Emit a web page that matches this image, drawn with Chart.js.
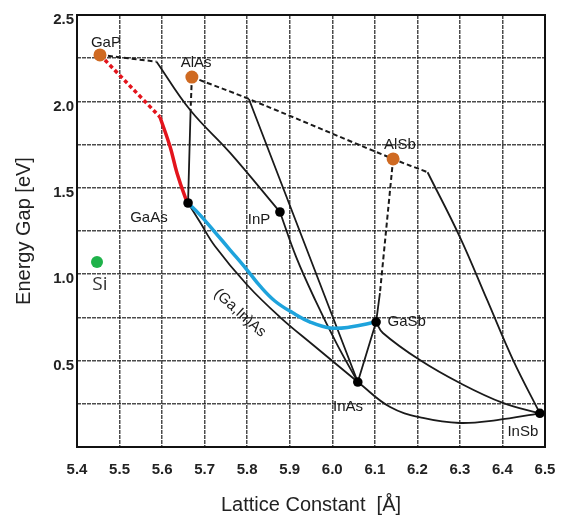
<!DOCTYPE html>
<html>
<head>
<meta charset="utf-8">
<script src="https://cdn.jsdelivr.net/npm/chart.js@4"></script>
<style>
  html, body { margin: 0; padding: 0; background: #fff; }
  #wrap { width: 563px; height: 517px; }
</style>
</head>
<body>
<div id="wrap"><canvas id="chart" width="563" height="517"></canvas></div>
<script>
// Binary compounds: lattice constant [Å] and band gap [eV]
var compounds = ['GaP', 'AlAs', 'AlSb', 'GaAs', 'InP', 'GaSb', 'InAs', 'InSb'];
var latticeConst = [5.454, 5.670, 6.143, 5.661, 5.877, 6.103, 6.060, 6.488];
var energyGap = [2.269, 2.141, 1.667, 1.412, 1.360, 0.723, 0.376, 0.195];
var indirect = [true, true, true, false, false, false, false, false];

var siPoint = [[5.447, 1.07]];

// indirect-gap branches (dashed)
var dashGaP = [[5.454, 2.269], [5.587, 2.23]];
var dashAlAsAlSb = [[5.670, 2.141], [5.804, 2.014], [6.143, 1.667], [6.224, 1.59]];
var dashAlAsDown = [[5.670, 2.141], [5.667, 1.95]];
var dashAlSbDown = [[6.143, 1.667], [6.112, 0.891]];

// direct-gap branches (solid)
var lineGaPInP = [[5.587, 2.23], [5.666, 1.95], [5.76, 1.702], [5.877, 1.36]];
var lineAlAsGaAs = [[5.667, 1.95], [5.661, 1.412]];
var lineAlAsInAs = [[5.804, 2.014], [6.060, 0.376]];
var lineInPInAs = [[5.877, 1.36], [5.915, 1.10], [5.96, 0.85], [6.01, 0.60], [6.060, 0.376]];
var lineGaInAs = [[5.661, 1.412], [5.689, 1.302], [5.724, 1.163], [5.80, 0.9375], [5.877, 0.752], [5.955, 0.59], [6.060, 0.376]];
var lineAlSbGaSb = [[6.112, 0.891], [6.103, 0.723]];
var lineGaSbInAs = [[6.103, 0.723], [6.060, 0.376]];
var lineGaSbInSb = [[6.103, 0.723], [6.119, 0.66], [6.206, 0.503], [6.30, 0.37], [6.401, 0.255], [6.488, 0.195]];
var lineAlSbInSb = [[6.224, 1.59], [6.30, 1.215], [6.364, 0.851], [6.425, 0.503], [6.488, 0.195]];
var lineInAsInSb = [[6.060, 0.376], [6.136, 0.231], [6.213, 0.168], [6.30, 0.139], [6.387, 0.156], [6.488, 0.195]];

// highlighted paths
var redDash = [[5.454, 2.269], [5.595, 1.91]];
var redSolid = [[5.595, 1.91], [5.619, 1.736], [5.635, 1.586], [5.654, 1.447], [5.661, 1.412]];
var blueCurve = [[5.661, 1.412], [5.689, 1.343], [5.724, 1.244], [5.76, 1.14], [5.80, 1.024], [5.83, 0.932],
                 [5.865, 0.845], [5.908, 0.775], [5.948, 0.723], [5.995, 0.689], [6.042, 0.694], [6.103, 0.723]];

// text labels placed in data coordinates
var labelText = ['GaP', 'AlAs', 'AlSb', 'GaAs', 'InP', 'GaSb', 'InAs', 'InSb'];
var labelX = [5.468, 5.680, 6.159, 5.569, 5.828, 6.175, 6.037, 6.448];
var labelY = [2.338, 2.222, 1.748, 1.325, 1.314, 0.723, 0.231, 0.087];

function pts(arr) {
  return arr.map(function(p) { return {x: p[0], y: p[1]}; });
}

function curve(arr, color, width, dash, order) {
  return {
    data: pts(arr),
    showLine: true,
    borderColor: color,
    borderWidth: width,
    borderDash: dash || [],
    pointRadius: 0,
    tension: 0.4,
    fill: false,
    order: order || 5
  };
}

var datasets = [];
[dashGaP, dashAlAsAlSb, dashAlAsDown, dashAlSbDown].forEach(function(c) {
  datasets.push(curve(c, '#1a1a1a', 2, [5, 3]));
});
[lineGaPInP, lineAlAsGaAs, lineAlAsInAs, lineInPInAs, lineGaInAs, lineAlSbGaSb,
 lineGaSbInAs, lineGaSbInSb, lineAlSbInSb, lineInAsInSb].forEach(function(c) {
  datasets.push(curve(c, '#1a1a1a', 1.8));
});
datasets.push(curve(redDash, '#e3141c', 3.5, [4, 3], 3));
datasets.push(curve(redSolid, '#e3141c', 3.5, null, 3));
datasets.push(curve(blueCurve, '#1ea3dc', 3.5, null, 3));

var markerPts = compounds.map(function(c, i) { return {x: latticeConst[i], y: energyGap[i]}; });
datasets.push({
  data: markerPts,
  pointRadius: compounds.map(function(c, i) { return indirect[i] ? 6.5 : 4.8; }),
  pointBackgroundColor: compounds.map(function(c, i) { return indirect[i] ? '#cf6a22' : '#000'; }),
  pointBorderWidth: 0,
  showLine: false,
  order: 0
});
datasets.push({
  data: pts(siPoint),
  pointRadius: 6,
  pointBackgroundColor: '#1fb24a',
  pointBorderWidth: 0,
  showLine: false,
  order: 0
});

// frame + text labels
var decorations = {
  id: 'decorations',
  beforeDatasetsDraw: function(chart) {
    var a = chart.chartArea, ctx = chart.ctx;
    ctx.save();
    ctx.strokeStyle = '#111';
    ctx.lineWidth = 2;
    ctx.strokeRect(a.left, a.top, a.right - a.left, a.bottom - a.top);
    ctx.restore();
  },
  afterDatasetsDraw: function(chart) {
    var ctx = chart.ctx, xs = chart.scales.x, ys = chart.scales.y;
    ctx.save();
    ctx.fillStyle = '#1a1a1a';
    ctx.textAlign = 'center';
    ctx.textBaseline = 'middle';
    ctx.font = '15px "Liberation Sans", Arial, sans-serif';
    for (var i = 0; i < labelText.length; i++) {
      ctx.fillText(labelText[i], xs.getPixelForValue(labelX[i]), ys.getPixelForValue(labelY[i]));
    }
    ctx.fillStyle = '#333';
    ctx.font = '19px "Open Sans", sans-serif';
    ctx.fillText('Si', xs.getPixelForValue(5.454), ys.getPixelForValue(0.94));

    ctx.fillStyle = '#1a1a1a';
    ctx.font = '15px "Liberation Sans", Arial, sans-serif';
    ctx.translate(xs.getPixelForValue(5.783), ys.getPixelForValue(0.775));
    ctx.rotate(42 * Math.PI / 180);
    ctx.fillText('(Ga,In)As', 0, 0);
    ctx.restore();
  }
};

var gridStyle = {
  color: 'rgba(30,30,30,0.8)',
  lineWidth: 1.5,
  drawTicks: false
};

var ctx = document.getElementById('chart');
var myChart = new Chart(ctx, {
  type: 'scatter',
  data: { datasets: datasets },
  options: {
    responsive: false,
    animation: false,
    layout: { padding: { left: 0, top: 15, right: 18, bottom: 0 } },
    plugins: { legend: { display: false }, tooltip: { enabled: false } },
    scales: {
      x: {
        type: 'linear',
        min: 5.4,
        max: 6.5,
        border: { display: false, dash: [4, 1] },
        grid: gridStyle,
        ticks: {
          stepSize: 0.1,
          padding: 14,
          color: '#222',
          font: { family: '"Liberation Sans", Arial, sans-serif', size: 15, weight: 'bold' },
          callback: function(v) { return v.toFixed(1); }
        },
        title: {
          display: true,
          text: 'Lattice Constant  [\u00c5]',
          color: '#222',
          font: { family: '"Liberation Sans", Arial, sans-serif', size: 20 },
          padding: { top: 0, bottom: 0 }
        },
        afterFit: function(scale) {
          scale.height = 70;
          scale.paddingLeft = 0;
          scale.paddingRight = 0;
        }
      },
      y: {
        type: 'linear',
        min: 0,
        max: 2.5,
        border: { display: false, dash: [4, 1] },
        grid: gridStyle,
        ticks: {
          stepSize: 0.25,
          padding: 3,
          labelOffset: 5,
          color: '#222',
          font: { family: '"Liberation Sans", Arial, sans-serif', size: 15, weight: 'bold' },
          callback: function(v) {
            if (v > 0 && Math.abs(v * 2 - Math.round(v * 2)) < 1e-6) return v.toFixed(1);
            return '';
          }
        },
        title: {
          display: true,
          text: 'Energy Gap [eV]',
          color: '#222',
          font: { family: '"Liberation Sans", Arial, sans-serif', size: 20 },
          padding: { top: 12, bottom: 0 }
        },
        afterFit: function(scale) {
          scale.width = 77;
          scale.paddingTop = 0;
          scale.paddingBottom = 0;
        }
      }
    }
  },
  plugins: [decorations]
});
</script>
</body>
</html>
